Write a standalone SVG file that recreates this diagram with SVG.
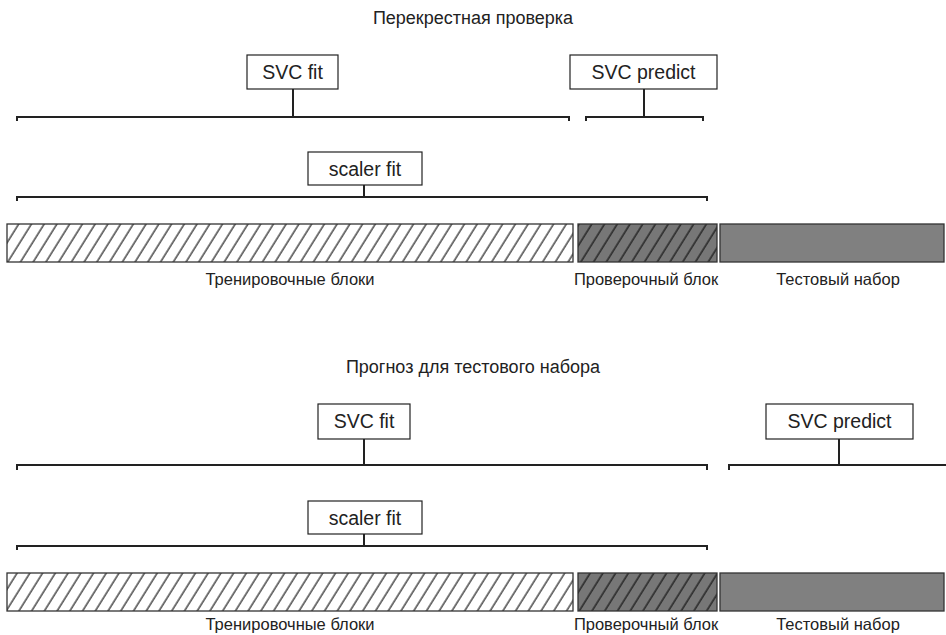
<svg xmlns="http://www.w3.org/2000/svg" width="946" height="635" viewBox="0 0 946 635">
<style>
text{font-family:"Liberation Sans",Arial,sans-serif;fill:#222}
.t{font-size:18px}
.b{font-size:19.5px}
.l{font-size:16.5px}
.box{fill:#fff;stroke:#222;stroke-width:1.2}
.br{fill:none;stroke:#222;stroke-width:2}
.bar{stroke:#333;stroke-width:1.3}
</style>
<defs>
<pattern id="hl" patternUnits="userSpaceOnUse" width="10.8" height="20" patternTransform="rotate(32)">
<rect width="10.8" height="20" fill="#fff"/>
<line x1="5" y1="0" x2="5" y2="20" stroke="#1a1a1a" stroke-width="1.2"/>
</pattern>
<pattern id="hd" patternUnits="userSpaceOnUse" width="10.8" height="20" patternTransform="rotate(32)">
<rect width="10.8" height="20" fill="#777"/>
<line x1="5" y1="0" x2="5" y2="20" stroke="#111" stroke-width="1.2"/>
</pattern>
</defs>

<g id="top">
<text class="t" x="473" y="24" text-anchor="middle">Перекрестная проверка</text>
<g id="connectors-top">
<path class="br" d="M17,121 V117 H569 V121"/>
<path class="br" d="M293,89 V117"/>
<path class="br" d="M586,121 V117 H703 V121"/>
<path class="br" d="M644,89 V117"/>
<path class="br" d="M17,201 V197 H707 V201"/>
<path class="br" d="M364,185 V197"/>
</g>
<g id="svcfit1"><rect class="box" x="247" y="55" width="91" height="34"/><text class="b" x="292.5" y="79" text-anchor="middle">SVC fit</text></g>
<g id="svcpred1"><rect class="box" x="570" y="55" width="147" height="34"/><text class="b" x="643.5" y="79" text-anchor="middle">SVC predict</text></g>
<g id="scaler1"><rect class="box" x="308" y="152" width="114" height="33"/><text class="b" x="365" y="176" text-anchor="middle">scaler fit</text></g>
<g id="bars1">
<rect class="bar" x="7" y="224" width="566" height="38" fill="url(#hl)"/>
<rect class="bar" x="578" y="224" width="139" height="38" fill="url(#hd)"/>
<rect class="bar" x="720" y="224" width="224" height="38" fill="#808080"/>
</g>
<text class="l" x="290" y="285" text-anchor="middle">Тренировочные блоки</text>
<text class="l" x="646" y="285" text-anchor="middle">Проверочный блок</text>
<text class="l" x="838" y="285" text-anchor="middle">Тестовый набор</text>
</g>

<g id="bottom">
<text class="t" x="473" y="373" text-anchor="middle">Прогноз для тестового набора</text>
<g id="connectors-bottom">
<path class="br" d="M17,470 V465 H707 V470"/>
<path class="br" d="M364,439 V465"/>
<path class="br" d="M729,470 V465 H946"/>
<path class="br" d="M839,439 V465"/>
<path class="br" d="M17,550 V546 H707 V550"/>
<path class="br" d="M364,534 V546"/>
</g>
<g id="svcfit2"><rect class="box" x="318" y="404" width="92" height="35"/><text class="b" x="364" y="428" text-anchor="middle">SVC fit</text></g>
<g id="svcpred2"><rect class="box" x="766" y="404" width="147" height="35"/><text class="b" x="839.5" y="428" text-anchor="middle">SVC predict</text></g>
<g id="scaler2"><rect class="box" x="308" y="501" width="114" height="33"/><text class="b" x="365" y="525" text-anchor="middle">scaler fit</text></g>
<g id="bars2">
<rect class="bar" x="7" y="573" width="566" height="38" fill="url(#hl)"/>
<rect class="bar" x="578" y="573" width="139" height="38" fill="url(#hd)"/>
<rect class="bar" x="720" y="573" width="224" height="38" fill="#808080"/>
</g>
<text class="l" x="290" y="630" text-anchor="middle">Тренировочные блоки</text>
<text class="l" x="646" y="630" text-anchor="middle">Проверочный блок</text>
<text class="l" x="838" y="630" text-anchor="middle">Тестовый набор</text>
</g>
</svg>
